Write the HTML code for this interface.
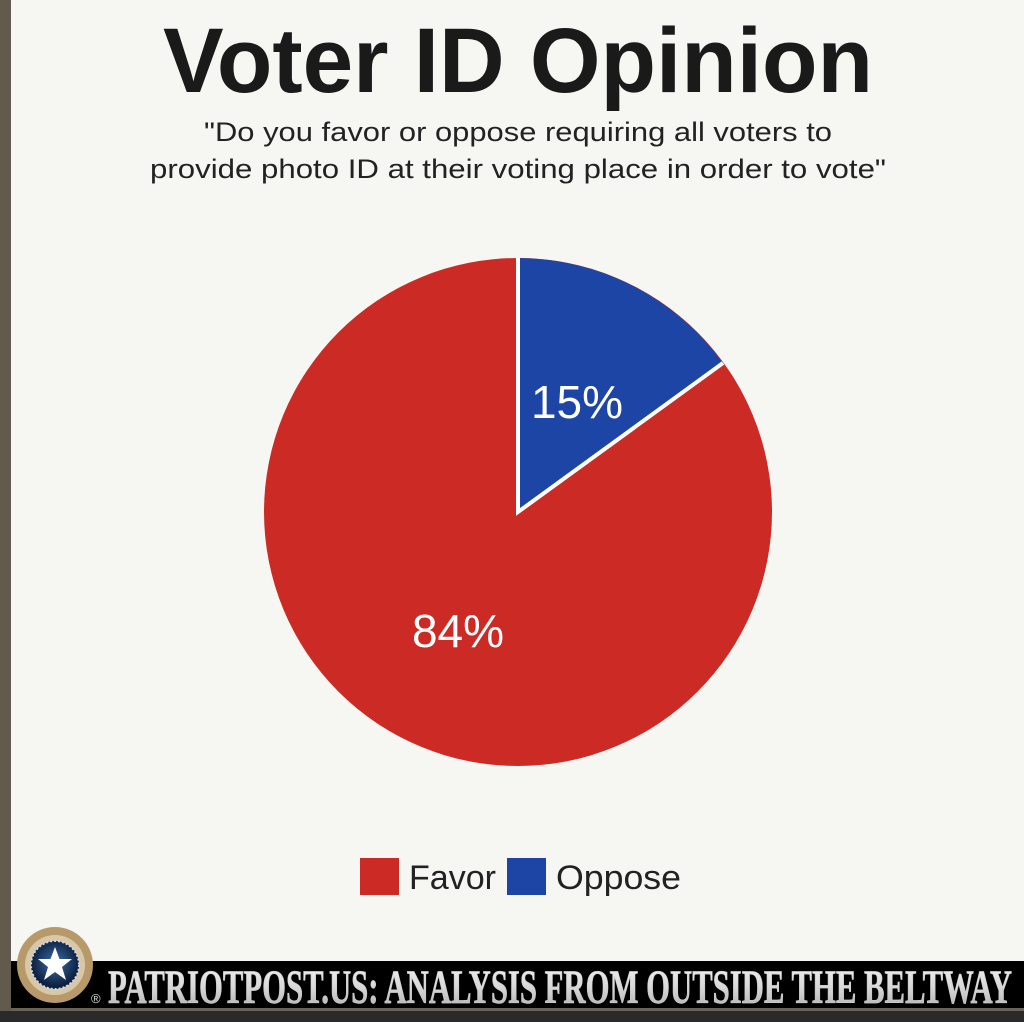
<!DOCTYPE html>
<html><head><meta charset="utf-8"><style>
html,body{margin:0;padding:0;background:#f6f6f2;}
body{width:1024px;height:1022px;overflow:hidden;position:relative;}
</style></head><body>
<svg width="1024" height="1022" viewBox="0 0 1024 1022" xmlns="http://www.w3.org/2000/svg" style="position:absolute;left:0;top:0">
<defs>
<linearGradient id="g" x1="0" y1="0" x2="0" y2="1"><stop offset="0" stop-color="#f4f4f4"/><stop offset="0.5" stop-color="#d8d8d8"/><stop offset="1" stop-color="#a8a8a8"/></linearGradient>
<radialGradient id="b" cx="0.5" cy="0.45" r="0.5"><stop offset="0" stop-color="#3c6fa8"/><stop offset="1" stop-color="#0c1f3e"/></radialGradient>
</defs>
<rect x="0" y="0" width="1024" height="1022" fill="#f6f6f2"/>
<rect x="0" y="0" width="11" height="1022" fill="#635a4e"/>
<text x="518" y="92" text-anchor="middle" font-family="Liberation Sans Narrow, Liberation Sans, sans-serif" font-weight="bold" font-size="92" fill="#1a1a1a" textLength="710" lengthAdjust="spacingAndGlyphs">Voter ID Opinion</text>
<text x="518" y="141" text-anchor="middle" font-family="Liberation Sans, sans-serif" font-size="27" fill="#222" textLength="628" lengthAdjust="spacingAndGlyphs">"Do you favor or oppose requiring all voters to</text>
<text x="518" y="178" text-anchor="middle" font-family="Liberation Sans, sans-serif" font-size="27" fill="#222" textLength="736" lengthAdjust="spacingAndGlyphs">provide photo ID at their voting place in order to vote"</text>
<circle cx="518" cy="512" r="254" fill="#cc2a24"/>
<path d="M518 512 L518 258 A254 254 0 0 1 723 363 Z" fill="#1c45a6"/>
<path d="M518 258 L518 512 L723 363" fill="none" stroke="#fff" stroke-width="4"/>
<text x="577" y="418" text-anchor="middle" font-family="Liberation Sans, sans-serif" font-size="46" fill="#fff">15%</text>
<text x="458" y="647" text-anchor="middle" font-family="Liberation Sans, sans-serif" font-size="46" fill="#fff">84%</text>
<rect x="360" y="858" width="39" height="37" fill="#cc2a24"/>
<text x="409" y="889" font-family="Liberation Sans, sans-serif" font-size="34" fill="#222" textLength="87" lengthAdjust="spacingAndGlyphs">Favor</text>
<rect x="507" y="858" width="39" height="37" fill="#1c45a6"/>
<text x="556" y="889" font-family="Liberation Sans, sans-serif" font-size="34" fill="#222" textLength="125" lengthAdjust="spacingAndGlyphs">Oppose</text>
<rect x="11" y="961" width="1013" height="47" fill="#000"/>
<rect x="11" y="1008" width="1013" height="3" fill="#6a6258"/>
<rect x="0" y="1011" width="1024" height="11" fill="#2a2a2a"/>
<circle cx="55" cy="965" r="38" fill="#b89a6a"/>
<circle cx="55" cy="965" r="30" fill="#d8c8a8"/>
<circle cx="55" cy="965" r="24" fill="url(#b)" stroke="#cfd8e8" stroke-width="2" stroke-dasharray="2 2"/>
<polygon points="55,947 59.5,959 72,959 62,967 66,980 55,972 44,980 48,967 38,959 50.5,959" fill="#fff"/>
<text x="91" y="1003" font-family="Liberation Sans, sans-serif" font-size="13" fill="#ddd">®</text>
<text x="108" y="1003" font-family="Liberation Serif, serif" font-weight="bold" font-size="48" fill="url(#g)" stroke="#ccc" stroke-width="0.8" textLength="904" lengthAdjust="spacingAndGlyphs">PATRIOTPOST.US: ANALYSIS FROM OUTSIDE THE BELTWAY</text>
</svg>
</body></html>
